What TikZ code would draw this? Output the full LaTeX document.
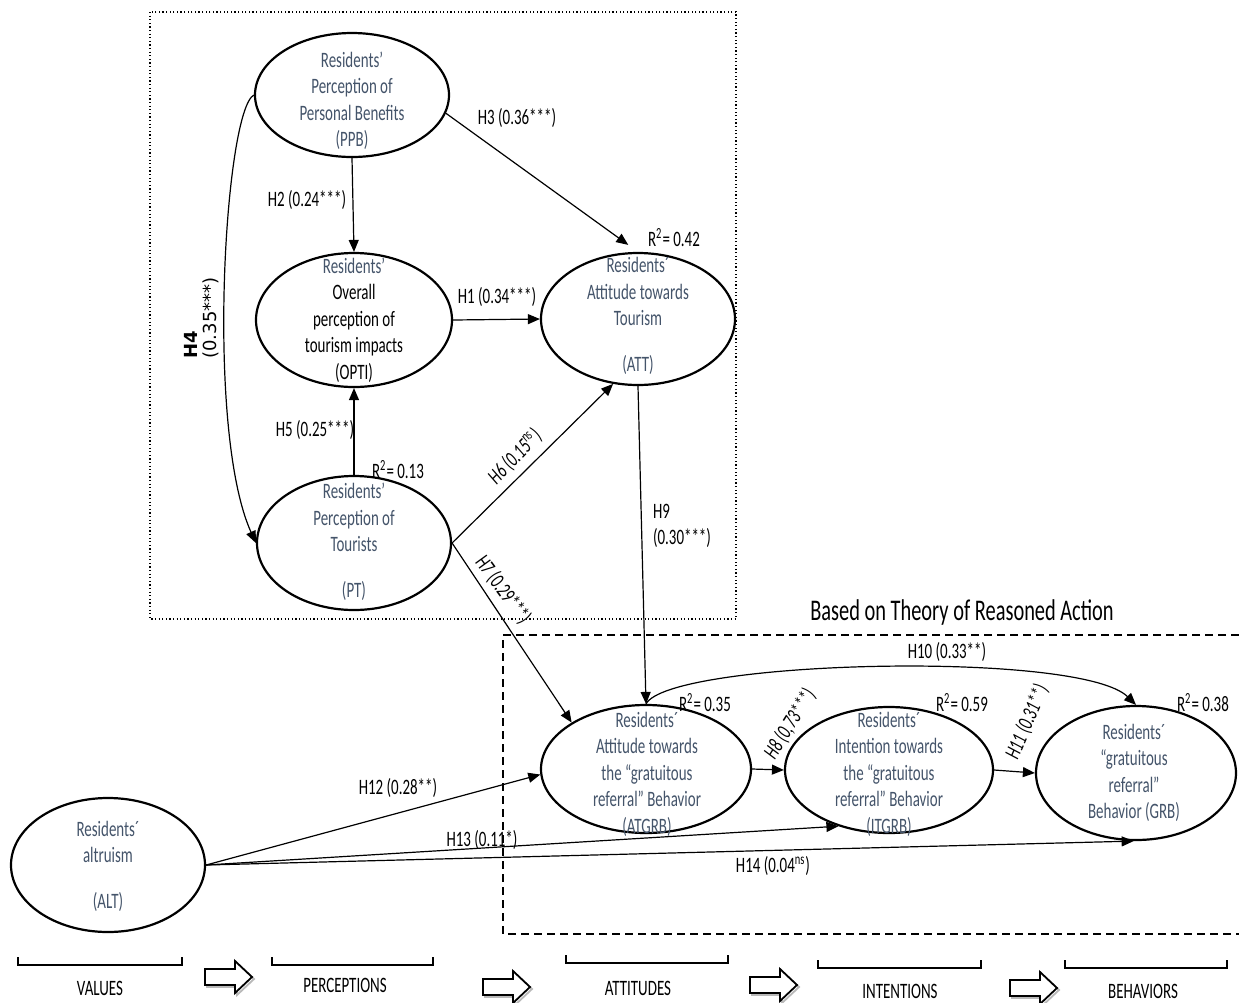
\documentclass[tikz,border=0pt]{standalone}
\usepackage{fontspec}
\setmainfont{Carlito}[FakeStretch=0.68]
\newfontfamily\djv{DejaVu Sans}
\usetikzlibrary{shapes.geometric,arrows.meta}
\definecolor{ctext}{RGB}{68,84,106}
\begin{document}
\begin{tikzpicture}[x=0.5pt,y=-0.5pt,
  ell/.style={draw, ellipse, line width=1.1pt, inner sep=0pt},
  txt/.style={align=center, inner sep=0pt, font=\fontsize{11}{13.25}\selectfont, text=ctext},
  lbl/.style={inner sep=0pt, font=\fontsize{11}{13.25}\selectfont},
  ilbl/.style={inner sep=0pt, font=\itshape\fontsize{11}{13.25}\selectfont},
  con/.style={line width=0.6pt, -{Triangle[length=6pt,width=5pt]}},
  blk/.style={line width=0.9pt, fill=white},
  brk/.style={line width=0.6pt},
]
\useasboundingbox[fill=white] (0,0) rectangle (1239,1003);

% frames
\draw[line width=0.7pt, dash pattern=on 0.6pt off 1.2pt] (150,12) rectangle (736,619);
\draw[line width=1pt, dash pattern=on 4pt off 2.5pt] (1239,635) -- (503,635) -- (503,934) -- (1239,934);
\node[font=\fontsize{15}{18}\selectfont, inner sep=0pt] (toa) at (962,612) {Based on Theory of Reasoned Action};

% ellipses
\node[ell, minimum width=97pt, minimum height=62pt] (ppb) at (352,95) {};
\node[ell, minimum width=98pt, minimum height=67pt] (opti) at (354,320) {};
\node[ell, minimum width=97pt, minimum height=66pt] (att) at (638,319) {};
\node[ell, minimum width=97pt, minimum height=67pt] (pt) at (354,543) {};
\node[ell, minimum width=105pt, minimum height=64pt] (atgrb) at (646,769) {};
\node[ell, minimum width=104pt, minimum height=63pt] (itgrb) at (889,770) {};
\node[ell, minimum width=100pt, minimum height=67pt] (grb) at (1136,773) {};
\node[ell, minimum width=97pt, minimum height=67pt] (alt) at (108,865) {};

% texts in ellipses
\node[txt] (ppbt) at (352,101) {Residents’\\Perception of\\Personal Benefits\\(PPB)};
\node[txt] (optit) at (354,320) {Residents’\\{\color{black}Overall}\\{\color{black}perception of}\\{\color{black}tourism impacts}\\{\color{black}(OPTI)}};
\node[txt] (attt) at (638,316) {Residents´\\Attitude towards\\Tourism\\[9.5pt](ATT)};
\node[txt] (ptt) at (354,542) {Residents’\\Perception of\\Tourists\\[9.5pt](PT)};
\node[txt] (atgrbt) at (647,774) {Residents´\\Attitude towards\\the “gratuitous\\referral” Behavior\\(ATGRB)};
\node[txt] (itgrbt) at (889,774) {Residents´\\Intention towards\\the “gratuitous\\referral” Behavior\\(ITGRB)};
\node[txt] (grbt) at (1134,773) {Residents´\\“gratuitous\\referral”\\Behavior (GRB)};
\node[txt] (altt) at (108,866) {Residents´\\altruism\\[9.5pt](ALT)};

% connectors
\draw[con] (ppb.south) -- (opti.north);
\draw[con, shorten >=6pt] (ppb.349) -- (att.north);
\draw[con] (opti.east) -- (att.west);
\draw[con] (pt.north) -- (opti.south);
\draw[con] (pt.east) -- (att.249);
\draw[con] (pt.east) -- (atgrb.148);
\draw[con] (ppb.west) .. controls (225,110) and (205,430) .. (pt.west);
\draw[con] (att.south) -- (atgrb.north);
\draw[con] (atgrb.north) .. controls (670,660) and (1080,650) .. (grb.north);
\draw[con] (atgrb.east) -- (itgrb.west);
\draw[con] (itgrb.east) -- (grb.west);
\draw[con] (alt.east) -- (atgrb.183);
\draw[con] (alt.east) -- (itgrb.228);
\draw[con] (alt.east) -- (grb.268);

% labels
\node[lbl] (h3) at (517,118) {H3 (0.36***)};
\node[lbl] (h2) at (307,200) {H2 (0.24***)};
\node[lbl] (r42) at (674,238) {R\textsuperscript{2}= 0.42};
\node[lbl] (h1) at (497,297) {H1 (0.34***)};
\node[lbl] (h5) at (315,430) {H5 (0.25***)};
\node[lbl] (r13) at (398,470) {R\textsuperscript{2}= 0.13};
\node[ilbl, rotate=46] (h6) at (515,457) {H6 (0.15\textsuperscript{ns})};
\node[lbl, rotate=-54] (h7) at (503,590) {H7 (0.29***)};
\node[lbl, align=left] (h9) at (682,526) {H9\\(0.30***)};
\node[inner sep=0pt, rotate=90, align=left, font=\djv\fontsize{9}{9.5}\selectfont] (h4) at (202,318) {\textbf{H4}\\(0.35***)};
\node[lbl] (h10) at (947,652) {H10 (0.33**)};
\node[lbl] (r35) at (705,703) {R\textsuperscript{2}= 0.35};
\node[lbl] (r59) at (962,703) {R\textsuperscript{2}= 0.59};
\node[lbl] (r38) at (1203,703) {R\textsuperscript{2}= 0.38};
\node[ilbl, rotate=58] (h8) at (790,724) {H8 (0,73***)};
\node[ilbl, rotate=67] (h11) at (1027,722) {H11 (0.31**)};
\node[lbl] (h12) at (398,788) {H12 (0.28**)};
\node[lbl] (h13) at (482,840) {H13 (0.11*)};
\node[lbl] (h14) at (773,866) {H14 (0.04\textsuperscript{ns})};

% stages
\draw[brk] (18,957) -- (18,965) -- (182,965) -- (182,957);
\draw[brk] (272,957) -- (272,965) -- (433,965) -- (433,957);
\draw[brk] (566,955) -- (566,963) -- (728,963) -- (728,955);
\draw[brk] (818,960) -- (818,968) -- (981,968) -- (981,960);
\draw[brk] (1065,960) -- (1065,968) -- (1227,968) -- (1227,960);
\node[lbl] (s1) at (100,988) {VALUES};
\node[lbl] (s2) at (345,985) {PERCEPTIONS};
\node[lbl] (s3) at (638,988) {ATTITUDES};
\node[lbl] (s4) at (900,991) {INTENTIONS};
\node[lbl] (s5) at (1143,991) {BEHAVIORS};
\foreach \ax/\ay in {205/977, 483/987, 750/985, 1010/988} {
  \draw[blk, draw=gray!55] (\ax+2,\ay-6) -- ++(30,0) -- ++(0,-8) -- ++(17,16) -- ++(-17,16) -- ++(0,-8) -- ++(-30,0) -- cycle;
  \draw[blk] (\ax,\ay-8) -- ++(30,0) -- ++(0,-8) -- ++(17,16) -- ++(-17,16) -- ++(0,-8) -- ++(-30,0) -- cycle;
}
\end{tikzpicture}
\end{document}
